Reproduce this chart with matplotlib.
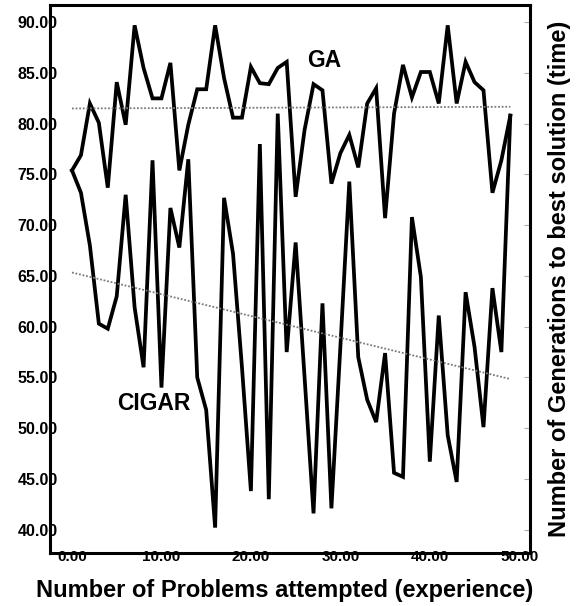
import numpy as np
import matplotlib
matplotlib.use("Agg")
import matplotlib.pyplot as plt

plt.rcParams['font.family'] = ['Liberation Sans', 'DejaVu Sans']
plt.rcParams['font.weight'] = 'bold'

# problems attempted (0..49)
problems = list(range(50))

ga_values = [75.4, 76.9, 82.0, 80.1, 73.7, 84.1, 79.9, 89.7, 85.5, 82.5,
             82.5, 86.0, 75.4, 79.9, 83.4, 83.4, 89.7, 84.5, 80.6, 80.6,
             85.6, 84.0, 83.9, 85.5, 86.1, 72.8, 79.4, 83.9, 83.3, 74.1,
             77.1, 78.9, 75.7, 82.0, 83.5, 70.7, 81.0, 85.8, 82.6, 85.1,
             85.1, 82.0, 89.7, 82.0, 86.1, 84.1, 83.3, 73.2, 76.4, 80.8]

cigar_values = [75.4, 73.2, 68.0, 60.3, 59.8, 63.0, 73.0, 61.9, 56.0, 76.4,
                54.0, 71.7, 67.8, 76.5, 55.0, 51.8, 40.2, 72.7, 67.2, 56.0,
                43.8, 78.0, 43.0, 81.0, 57.5, 68.3, 55.0, 41.6, 62.3, 42.1,
                58.0, 74.3, 57.0, 52.8, 50.6, 57.4, 45.6, 45.2, 70.8, 64.9,
                46.7, 61.1, 49.3, 44.7, 63.4, 58.0, 50.1, 63.8, 57.5, 80.8]

y_ticks = [40, 45, 50, 55, 60, 65, 70, 75, 80, 85, 90]
x_ticks = [0, 10, 20, 30, 40, 50]

fig = plt.figure(figsize=(5.8, 6.06), dpi=100)
ax = fig.add_axes([0.0862, 0.0875, 0.8276, 0.9042])

x = np.array(problems)
for vals in [ga_values, cigar_values]:
    ax.plot(x, vals, color='black', linewidth=2.7, solid_joinstyle='miter')
    # linear trend line
    k, b = np.polyfit(x, vals, 1)
    ax.plot([x[0], x[-1]], [k * x[0] + b, k * x[-1] + b], color='#7a7a7a',
            linewidth=1.3, linestyle=(0, (1, 1)), zorder=3)

ax.text(28.2, 86.2, 'GA', fontsize=16.5, fontweight='bold', ha='center', va='center')
ax.text(9.1, 52.4, 'CIGAR', fontsize=16.5, fontweight='bold', ha='center', va='center')

ax.set_xlim(-2.46, 51.2)
ax.set_ylim(37.7, 91.7)
ax.set_yticks(y_ticks)
ax.set_xticks(x_ticks)
ax.set_yticklabels(['%.2f' % v for v in y_ticks], fontsize=11.5, fontweight='bold')
ax.set_xticklabels(['%.2f' % v for v in x_ticks], fontsize=11, fontweight='bold')
ax.tick_params(axis='y', left=False, right=True, direction='in', length=4,
               width=0.8, color='#aaaaaa', pad=-5.5)
ax.tick_params(axis='x', length=0, pad=-2.5)

for side in ['left', 'bottom', 'top', 'right']:
    ax.spines[side].set_linewidth(2.2)

fig.text(0.491, 0.0264, 'Number of Problems attempted (experience)',
         fontsize=17, fontweight='bold', ha='center', va='center')
fig.text(0.964, 0.540, 'Number of Generations to best solution (time)',
         fontsize=17, fontweight='bold', ha='center', va='center', rotation=90)

fig.savefig('out.png', dpi=100)
